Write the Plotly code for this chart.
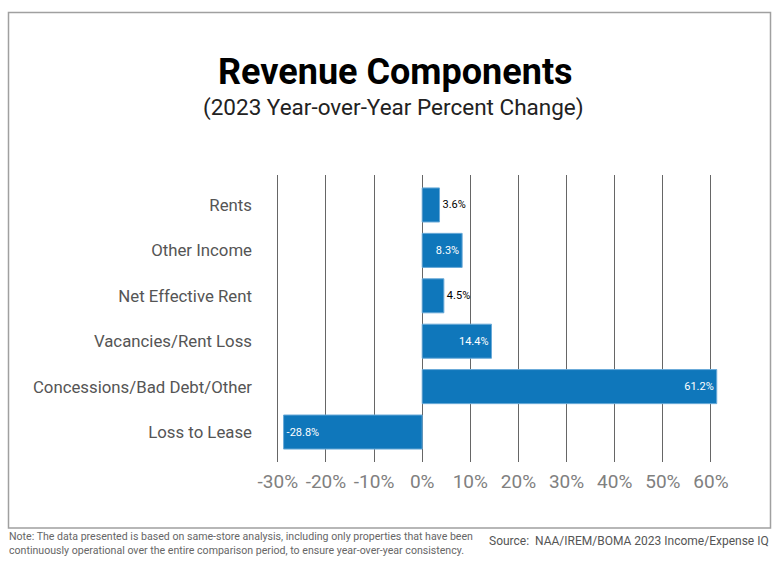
import plotly.graph_objects as go

categories = ["Rents", "Other Income", "Net Effective Rent", "Vacancies/Rent Loss",
              "Concessions/Bad Debt/Other", "Loss to Lease"]
values = [3.6, 8.3, 4.5, 14.4, 61.2, -28.8]
labels = ["3.6%", "8.3%", "4.5%", "14.4%", "61.2%", "-28.8%"]
label_pos = ["outside", "inside", "outside", "inside", "inside", "inside"]
tick_vals = [-30, -20, -10, 0, 10, 20, 30, 40, 50, 60]
tick_text = ["-30%", "-20%", "-10%", "0%", "10%", "20%", "30%", "40%", "50%", "60%"]

W, H = 778, 561
ML, MR, MT, MB = 273, 55, 175, 99
PW, PH = W - ML - MR, H - MT - MB

def px(x):
    return (x - ML) / PW

def py(y):
    return (H - MB - y) / PH

FONT = "Roboto"

fig = go.Figure(go.Bar(
    x=values, y=categories, orientation="h",
    text=labels, textposition=label_pos, insidetextanchor="end", textangle=0,
    insidetextfont=dict(color="white", size=11, family=FONT),
    outsidetextfont=dict(color="black", size=11, family=FONT),
    marker=dict(color="#0f77bb", line=dict(color="#6aaad8", width=1)),
    width=0.75, cliponaxis=False,
))

fig.update_layout(
    width=W, height=H,
    margin=dict(l=ML, r=MR, t=MT, b=MB),
    paper_bgcolor="white", plot_bgcolor="white",
    showlegend=False,
    font=dict(family=FONT),
    uniformtext=dict(minsize=11, mode="show"),
    xaxis=dict(range=[-31, 62.5], tickvals=tick_vals, ticktext=tick_text,
               showgrid=True, gridcolor="#666666", gridwidth=1,
               zeroline=True, zerolinecolor="#666666", zerolinewidth=1,
               showline=False, ticks="",
               tickfont=dict(size=19, color="#808080", family=FONT),
               ticklabelstandoff=6, fixedrange=True),
    yaxis=dict(range=[5.66, -0.66], showgrid=False, showline=False, ticks="",
               tickfont=dict(size=16.8, color="#555555", family=FONT),
               ticklabelstandoff=20, fixedrange=True),
    shapes=[dict(type="rect", xref="paper", yref="paper",
                 x0=px(8.5), x1=px(770.5), y0=py(12.5), y1=py(528),
                 line=dict(color="#a0a0a0", width=1.5), layer="below")],
    annotations=[
        dict(text="<b>Revenue Components</b>", xref="paper", yref="paper",
             x=px(395), y=py(72), xanchor="center", yanchor="middle",
             showarrow=False, font=dict(size=36, color="black", family=FONT)),
        dict(text="(2023 Year-over-Year Percent Change)", xref="paper", yref="paper",
             x=px(393), y=py(108), xanchor="center", yanchor="middle",
             showarrow=False, font=dict(size=22.5, color="#222222", family=FONT)),
        dict(text="Note: The data presented is based on same-store analysis, including only properties that have been<br>"
                  "continuously operational over the entire comparison period, to ensure year-over-year consistency.",
             xref="paper", yref="paper", x=px(7), y=py(543), xanchor="left", yanchor="middle",
             align="left", showarrow=False,
             font=dict(size=10.6, color="#666666", family=FONT)),
        dict(text="Source:  NAA/IREM/BOMA 2023 Income/Expense IQ", xref="paper", yref="paper",
             x=px(771), y=py(541), xanchor="right", yanchor="middle",
             showarrow=False, font=dict(size=12, color="#555555", family=FONT)),
    ],
)

fig.write_html("out.html")
